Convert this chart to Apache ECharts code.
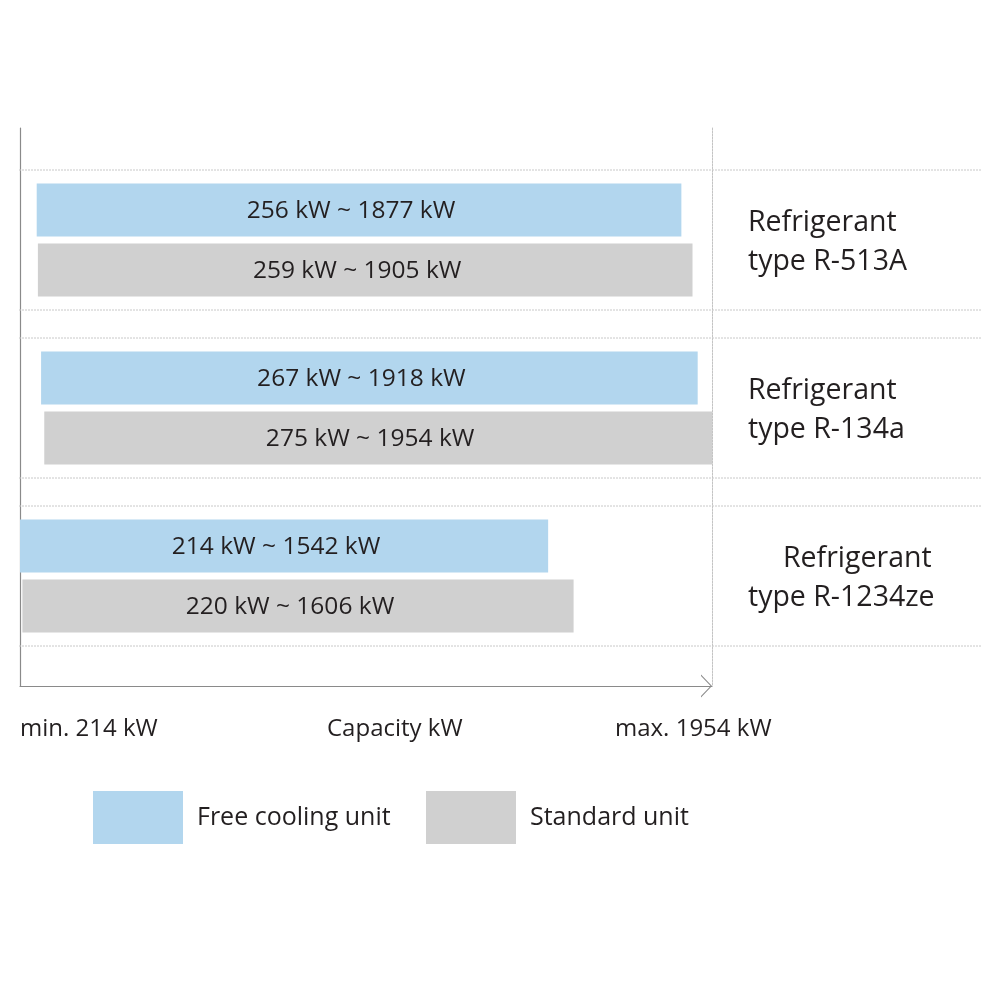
<!DOCTYPE html>
<html>
<head>
<meta charset="utf-8">
<script src="https://cdn.jsdelivr.net/npm/echarts@6/dist/echarts.min.js"></script>
<style>
html,body{margin:0;padding:0;background:#fff;}
#c{width:1000px;height:1000px;}
</style>
</head>
<body>
<div id="c"></div>
<script>
// ---- data ----
const categories = ['Refrigerant\ntype R-513A', 'Refrigerant\ntype R-134a', 'Refrigerant\ntype R-1234ze'];
const seriesNames = ['Free cooling unit', 'Standard unit'];
const freeMin = [256, 267, 214];
const freeMax = [1877, 1918, 1542];
const stdMin = [259, 275, 220];
const stdMax = [1905, 1954, 1606];
const xMin = 214;
const xMax = 1954;
const xLabels = ['min. 214 kW', 'Capacity kW', 'max. 1954 kW'];

// ---- style / layout ----
const FONT = '"Open Sans", "Noto Sans", sans-serif';
const BLUE = '#b2d6ee';
const GRAY = '#d0d0d0';
const TEXT = '#231f20';
const BAR_H = 53;
const BAR_OFF = 30;
const SEP_OFF = 70;
const LINE1_INDENT = [0, 0, 35];

function barRender(offset) {
  return function (params, api) {
    const g = api.value(2);
    const p0 = api.coord([api.value(0), g]);
    const p1 = api.coord([api.value(1), g]);
    const y = p0[1] + offset;
    return {
      type: 'group',
      children: [
        { type: 'rect', shape: { x: p0[0], y: y - BAR_H / 2, width: p1[0] - p0[0], height: BAR_H },
          style: { fill: api.visual('color') } },
        { type: 'text', z2: 5, style: { text: api.value(0) + ' kW ~ ' + api.value(1) + ' kW',
          x: (p0[0] + p1[0]) / 2 - 8, y: y + 1.5, align: 'center', verticalAlign: 'middle',
          font: '24.5px ' + FONT, fill: TEXT } }
      ]
    };
  };
}

function groupRender(params, api) {
  const i = api.value(0);
  const cs = params.coordSys;
  const c = api.coord([xMin, i]);
  const lines = categories[i].split('\n');
  const lx = cs.x + cs.width + 36;
  const sepStyle = { stroke: '#c8c8c8', lineWidth: 1, lineDash: [2, 1] };
  return {
    type: 'group',
    children: [
      { type: 'line', shape: { x1: cs.x - 1, y1: c[1] - SEP_OFF, x2: cs.x + cs.width + 270, y2: c[1] - SEP_OFF }, style: sepStyle },
      { type: 'line', shape: { x1: cs.x - 1, y1: c[1] + SEP_OFF, x2: cs.x + cs.width + 270, y2: c[1] + SEP_OFF }, style: sepStyle },
      { type: 'text', style: { text: lines[0], x: lx + LINE1_INDENT[i], y: c[1] - 17, align: 'left', verticalAlign: 'middle', font: '28.5px ' + FONT, fill: TEXT } },
      { type: 'text', style: { text: lines[1], x: lx, y: c[1] + 22, align: 'left', verticalAlign: 'middle', font: '28.5px ' + FONT, fill: TEXT } }
    ]
  };
}

const freeData = freeMin.map((v, i) => [v, freeMax[i], i]);
const stdData = stdMin.map((v, i) => [v, stdMax[i], i]);

const chart = echarts.init(document.getElementById('c'));
const yMinV = -112 / 168;
const yMaxV = yMinV + 558 / 168;
chart.setOption({
  animation: false,
  backgroundColor: '#fff',
  textStyle: { fontFamily: FONT },
  grid: { left: 20, top: 128, width: 692, height: 558 },
  xAxis: {
    type: 'value', min: xMin, max: xMax,
    axisLine: { show: true, onZero: false, lineStyle: { color: '#8a8a8a', width: 1.2 },
      symbol: ['none', 'path://M0,11 L11.5,0 L23,11 L21.6,11 L11.5,1.4 L1.4,11 Z'],
      symbolSize: [23, 11], symbolOffset: [0, -5.5] },
    axisTick: { show: false }, axisLabel: { show: false }, splitLine: { show: false }
  },
  yAxis: [
    { type: 'value', inverse: true, min: yMinV, max: yMaxV, position: 'left',
      axisLine: { show: true, onZero: false, lineStyle: { color: '#8a8a8a', width: 1.2 } },
      axisTick: { show: false }, axisLabel: { show: false }, splitLine: { show: false } },
    { type: 'value', inverse: true, min: yMinV, max: yMaxV, position: 'right',
      axisLine: { show: true, onZero: false, lineStyle: { color: '#c4c4c4', width: 1, type: [2, 1] } },
      axisTick: { show: false }, axisLabel: { show: false }, splitLine: { show: false } }
  ],
  legend: [
    { data: [seriesNames[0]], left: 93, top: 791, padding: 0, itemWidth: 90, itemHeight: 53, icon: 'rect',
      itemStyle: { borderWidth: 0 },
      textStyle: { fontSize: 25, color: TEXT, fontFamily: FONT, padding: [6, 0, 0, 9] } },
    { data: [seriesNames[1]], left: 426, top: 791, padding: 0, itemWidth: 90, itemHeight: 53, icon: 'rect',
      itemStyle: { borderWidth: 0 },
      textStyle: { fontSize: 25, color: TEXT, fontFamily: FONT, padding: [6, 0, 0, 9] } }
  ],
  graphic: [
    { type: 'text', left: 20, top: 717, style: { text: xLabels[0], font: '24px ' + FONT, fill: TEXT } },
    { type: 'text', left: 327, top: 717, style: { text: xLabels[1], font: '24px ' + FONT, fill: TEXT } },
    { type: 'text', left: 615, top: 717, style: { text: xLabels[2], font: '24px ' + FONT, fill: TEXT } }
  ],
  series: [
    { type: 'custom', name: '_groups', clip: false, renderItem: groupRender, data: [[0], [1], [2]], z: 1, silent: true },
    { type: 'custom', name: seriesNames[0], clip: false, renderItem: barRender(-BAR_OFF), data: freeData,
      itemStyle: { color: BLUE }, encode: { x: [0, 1], y: 2 }, z: 3 },
    { type: 'custom', name: seriesNames[1], clip: false, renderItem: barRender(BAR_OFF), data: stdData,
      itemStyle: { color: GRAY }, encode: { x: [0, 1], y: 2 }, z: 3 }
  ]
});
</script>
</body>
</html>
